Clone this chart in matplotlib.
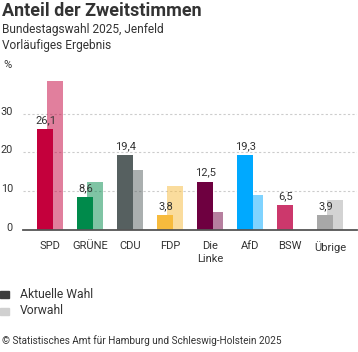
import matplotlib
matplotlib.use("Agg")
import matplotlib.pyplot as plt
import matplotlib.transforms as mtransforms
import numpy as np

categories = ["SPD", "GRÜNE", "CDU", "FDP", "Die\nLinke", "AfD", "BSW", "Übrige"]
aktuell = [26.1, 8.6, 19.4, 3.8, 12.5, 19.3, 6.5, 3.9]
vorwahl = [38.4, 12.4, 15.6, 11.4, 4.7, 9.1, np.nan, 7.7]
aktuell_labels = ["26,1", "8,6", "19,4", "3,8", "12,5", "19,3", "6,5", "3,9"]
colors = ["#C4003C", "#008A4B", "#566060", "#F7BB3D", "#6E0040", "#00A9FF", "#CC386C", "#A8A8A8"]
yticks = [0, 10, 20, 30]

FONT = "Roboto"
plt.rcParams["font.family"] = [FONT, "DejaVu Sans"]
TXT = "#333333"

W, H = 358, 352
fig = plt.figure(figsize=(W / 100, H / 100), dpi=100)

def fx(px):
    return px / W

def fy(py):
    return 1 - py / H

ax_left, ax_right, ax_bottom = 22.7, 357, 230
ymax = 40
ppu = 3.877
ax_top = ax_bottom - ymax * ppu
ax = fig.add_axes([fx(ax_left), fy(ax_bottom), fx(ax_right - ax_left), (ax_bottom - ax_top) / H])

x = np.arange(len(categories))
bw = 0.4
off = 0.12
for i in range(len(categories)):
    if not np.isnan(vorwahl[i]):
        ax.bar(x[i] + off, vorwahl[i], width=bw, color=colors[i], alpha=0.5, linewidth=0, zorder=2)
    ax.bar(x[i] - off, aktuell[i], width=bw, color=colors[i], linewidth=0, zorder=3)
    ax.text(x[i] - off, aktuell[i] + 1.0, aktuell_labels[i], ha="center", va="bottom",
            fontsize=8, color=TXT, zorder=4)

ax.set_xlim(-0.69, 7.67)
ax.set_ylim(0, ymax)
for s in ["top", "right", "left"]:
    ax.spines[s].set_visible(False)
ax.spines["bottom"].set_color("#555555")
ax.spines["bottom"].set_linewidth(1.3)
ax.spines["bottom"].set_zorder(5)

ax.set_yticks(yticks)
ax.set_yticklabels([str(t) for t in yticks])
ax.tick_params(axis="y", length=0, pad=7, labelsize=7.8, labelcolor=TXT)
shift = mtransforms.ScaledTranslation(0, 3 / 100, fig.dpi_scale_trans)
for lab in ax.get_yticklabels():
    lab.set_transform(lab.get_transform() + shift)
for t in yticks[1:]:
    ax.axhline(t, color="#CCCCCC", linewidth=0.8, linestyle=(0, (2, 2)), zorder=1)

ax.set_xticks(x)
ax.set_xticklabels(categories, fontsize=8, color=TXT, linespacing=1.3)
ax.tick_params(axis="x", length=0, pad=8)
for lab in ax.get_xticklabels():
    lab.set_verticalalignment("top")

fig.text(fx(2), fy(11.5), "Anteil der Zweitstimmen", fontsize=13, fontweight="bold",
         color=TXT, va="center", ha="left")
fig.text(fx(2), fy(30), "Bundestagswahl 2025, Jenfeld", fontsize=8.6, color=TXT, va="center", ha="left")
fig.text(fx(2), fy(45.5), "Vorläufiges Ergebnis", fontsize=8.6, color=TXT, va="center", ha="left")
fig.text(fx(3.5), fy(65), "%", fontsize=8, color=TXT, va="center", ha="left")

# legend
fig.patches.append(plt.Rectangle((fx(0), fy(298)), fx(9), 7 / H, transform=fig.transFigure,
                                 color="#3D3D3D", figure=fig))
fig.text(fx(20), fy(294), "Aktuelle Wahl", fontsize=8.7, color=TXT, va="center", ha="left")
fig.patches.append(plt.Rectangle((fx(0), fy(315)), fx(9), 7 / H, transform=fig.transFigure,
                                 color="#D0D0D0", figure=fig))
fig.text(fx(20), fy(311), "Vorwahl", fontsize=8.7, color=TXT, va="center", ha="left")

fig.text(fx(2), fy(341), "© Statistisches Amt für Hamburg und Schleswig-Holstein 2025", fontsize=7.2,
         color=TXT, va="center", ha="left")

fig.savefig("out.png", dpi=100)
